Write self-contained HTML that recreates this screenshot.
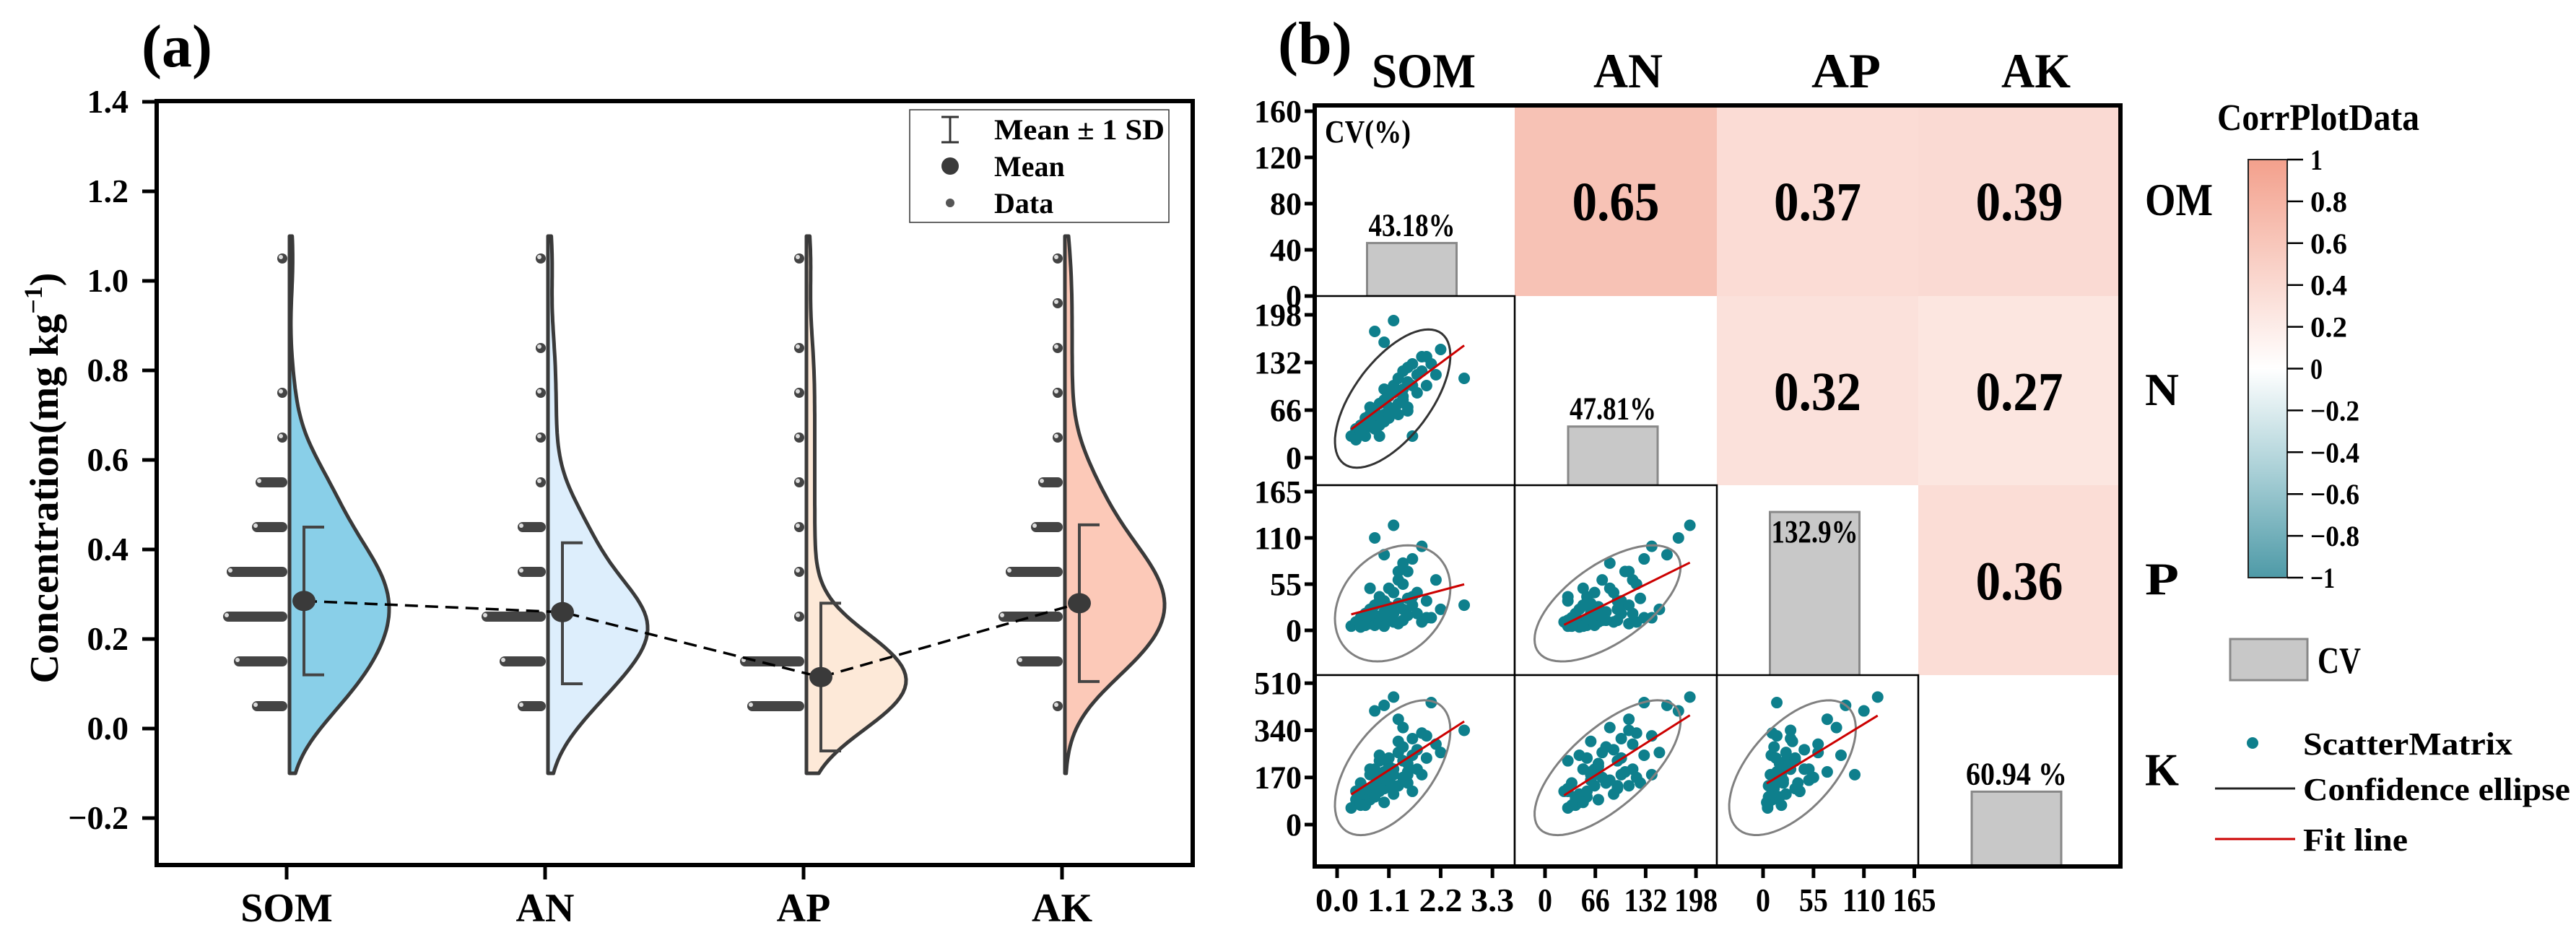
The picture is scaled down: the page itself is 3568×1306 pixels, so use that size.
<!DOCTYPE html>
<html><head><meta charset="utf-8">
<style>
html,body{margin:0;padding:0;background:#fff;}
svg{display:block;font-family:"Liberation Serif","DejaVu Serif",serif;}
svg text{font-family:"Liberation Serif","DejaVu Serif",serif;font-weight:bold;fill:#000;}
</style></head>
<body>
<svg id="fig" xmlns="http://www.w3.org/2000/svg" width="3568" height="1306" viewBox="0 0 3568 1306" font-family="'Liberation Serif','DejaVu Serif',serif" font-weight="bold">
<defs>
<linearGradient id="cbar" x1="0" y1="0" x2="0" y2="1">
<stop offset="0" stop-color="#F3A08C"/><stop offset="0.25" stop-color="#F9D0C6"/><stop offset="0.5" stop-color="#FFFFFF"/><stop offset="0.75" stop-color="#A8CFD6"/><stop offset="1" stop-color="#4E9AA7"/>
</linearGradient>
</defs>
<rect width="3568" height="1306" fill="#fff"/>
<g id="pa"></g>
<g id="pb"></g>
</svg>
<script>
// ---------- Panel (a) data ----------
const catsA = ["SOM","AN","AP","AK"];
const yTicksA = [-0.2,0.0,0.2,0.4,0.6,0.8,1.0,1.2,1.4];
const yTickLabelsA = ["\u22120.2","0.0","0.2","0.4","0.6","0.8","1.0","1.2","1.4"];
const binValues = [0.05,0.15,0.25,0.35,0.45,0.55,0.65,0.75,0.85,0.95,1.05];
const countsSOM = [8,13,16,15,8,7,1,1,0,0,1];
const countsAN  = [6,11,16,6,6,1,1,1,1,0,1];
const countsAP  = [14,16,1,1,1,1,1,1,1,0,1];
const countsAK  = [1,11,16,14,7,5,1,1,1,1,1];
const meansA = [0.285,0.26,0.115,0.28];
const sdUpper = [0.45,0.415,0.28,0.455];
const sdLower = [0.12,0.10,-0.05,0.105];
const violinColors = ["#89CFE8","#DDEEFC","#FDE9D8","#FCC9B8"];

// ---------- Panel (b) data ----------
const varsB = ["SOM","AN","AP","AK"];
const rowLabels = ["OM","N","P","K"];
const corrRow0 = [0.65,0.37,0.39];
const corrRow1 = [0.32,0.27];
const corrRow2 = [0.36];
const cvValues = [43.18,47.81,132.9,60.94];
const cvLabels = ["43.18%","47.81%","132.9%","60.94 %"];
const row0Ticks = [0,40,80,120,160];
const anTicks = [0,66,132,198];
const apTicks = [0,55,110,165];
const akTicks = [0,170,340,510];
const somTicks = [0.0,1.1,2.2,3.3];
const somTickLabels = ["0.0","1.1","2.2","3.3"];
const cbTicks = [1,0.8,0.6,0.4,0.2,0,-0.2,-0.4,-0.6,-0.8,-1];
const cbTickLabels = ["1","0.8","0.6","0.4","0.2","0","\u22120.2","\u22120.4","\u22120.6","\u22120.8","\u22121"];
const sampleSOM = [0.3,0.4,0.4,0.5,0.5,0.6,0.6,0.6,0.7,0.7,0.7,0.8,0.8,0.8,0.9,0.9,0.9,1.0,1.0,1.0,1.0,1.1,1.1,1.1,1.2,1.2,1.2,1.3,1.3,1.3,1.4,1.4,1.4,1.5,1.5,1.5,1.6,1.6,1.7,1.7,1.8,1.8,1.9,2.0,2.1,2.2,2.7,1.2,0.8,1.0,1.6,1.3,0.5,1.1,1.9,0.7,1.4,1.2,0.9,1.5];
const sampleAN  = [30,40,25,45,35,55,40,30,60,45,70,50,65,40,75,55,45,80,60,95,50,70,85,55,90,65,100,75,110,60,95,120,80,105,70,125,100,130,115,90,120,140,100,130,115,150,110,190,175,160,30,110,35,60,140,50,85,95,30,65];
const sampleAP  = [5,8,10,4,15,6,20,12,8,25,10,30,6,18,12,40,9,22,15,35,5,28,50,14,10,45,20,60,8,32,25,55,12,70,18,38,30,85,20,45,10,100,35,15,60,25,30,125,110,90,40,70,5,22,15,50,80,12,35,18];
const sampleAK  = [60,90,120,80,150,100,70,130,180,110,90,200,140,100,170,120,250,150,190,130,80,210,160,240,110,200,180,260,140,300,230,170,280,190,220,150,310,250,200,270,330,180,240,440,290,260,340,460,410,430,120,380,70,160,320,200,350,140,230,180];

const NS = "http://www.w3.org/2000/svg";
const FONT = "'Liberation Serif', 'DejaVu Serif', serif";
function mk(parent, tag, attrs){
  const e = document.createElementNS(NS, tag);
  for (const k in attrs) e.setAttribute(k, attrs[k]);
  parent.appendChild(e);
  return e;
}
function tx(parent, x, y, s, size, anchor, tl){
  const t = mk(parent, "text", {x:x, y:y, "font-size":size, "text-anchor":anchor||"start", "font-family":FONT, "font-weight":"bold"});
  t.style.fontFamily = FONT;
  if (tl){ t.setAttribute("textLength", tl); t.setAttribute("lengthAdjust","spacingAndGlyphs"); }
  t.textContent = s;
  return t;
}

// ================= PANEL A =================
const pa = document.getElementById("pa");
const yA = v => 1009 - 620*v;
const xA = i => 397 + 358*i;
const L=217, R=1652, T=140, B=1198;

let e = tx(pa, 196, 92, "(a)", 84, "start");



yTicksA.forEach((v,i)=>{
  let t = mk(pa,"line",{x1:L-20,x2:L,y1:yA(v),y2:yA(v),stroke:"#000","stroke-width":5});
  
  
  let l = tx(pa, 178, yA(v)+15, yTickLabelsA[i], 46, "end");
  
  
});
const yt = mk(pa,"text",{x:0,y:0,"font-size":56,"text-anchor":"middle","font-family":FONT,"font-weight":"bold",transform:"translate(80,662) rotate(-90)"});
yt.style.fontFamily = FONT;
yt.innerHTML = 'Concentration(mg kg<tspan dy="-22" font-size="36">\u22121</tspan><tspan dy="22">)</tspan>';



const allCounts = [countsSOM,countsAN,countsAP,countsAK];
allCounts.forEach((counts,i)=>{
  const c = xA(i)+4;
  const bw = 0.085;
  const dens = v => { let s=0; counts.forEach((n,k)=>{ const z=(v-binValues[k])/bw; s+=n*Math.exp(-0.5*z*z); }); return s; };
  let maxD = 0; const pts=[];
  for (let v=-0.1; v<=1.1001; v+=0.01){ const d=dens(v); pts.push([v,d]); if(d>maxD)maxD=d; }
  let dstr = `M${c},${yA(-0.1)}`;
  pts.forEach(p=>{ dstr += ` L${(c+138*p[1]/maxD).toFixed(1)},${yA(p[0]).toFixed(1)}`; });
  dstr += ` L${c},${yA(1.1)} Z`;
  const vp = mk(pa,"path",{d:dstr,fill:violinColors[i],stroke:"#3a3a3a","stroke-width":5,"stroke-linejoin":"round"});
  
  
  counts.forEach((n,k)=>{
    if(!n) return;
    const y = yA(binValues[k]);
    const x0 = c-10, x1 = c-10-(n-1)*5;
    const s = mk(pa,"line",{x1:x0,x2:x1,y1:y,y2:y,stroke:"#444","stroke-width":14,"stroke-linecap":"round"});
    
    
    const h = mk(pa,"circle",{cx:x1-2,cy:y-2,r:3,fill:"#ddd"});
    
    
  });
});
let md = "";
meansA.forEach((m,i)=>{ md += (i?" L":"M")+(xA(i)+24)+","+yA(m); });
const dl = mk(pa,"path",{d:md,fill:"none",stroke:"#000","stroke-width":3.5,"stroke-dasharray":"18 10"});


meansA.forEach((m,i)=>{
  const x = xA(i)+24;
  const sd = mk(pa,"path",{d:`M${x+28},${yA(sdUpper[i])} L${x},${yA(sdUpper[i])} L${x},${yA(sdLower[i])} L${x+28},${yA(sdLower[i])}`,fill:"none",stroke:"#444","stroke-width":4});
  
  
  const mc = mk(pa,"ellipse",{cx:x,cy:yA(m),rx:16,ry:14,fill:"#3a3a3a"});
  
  
});
const fr = mk(pa,"rect",{x:L,y:T,width:R-L,height:B-T,fill:"none",stroke:"#000","stroke-width":6});


catsA.forEach((c,i)=>{
  const t = mk(pa,"line",{x1:xA(i),x2:xA(i),y1:B,y2:B+20,stroke:"#000","stroke-width":5});
  
  
  const l = tx(pa, xA(i), 1276, c, 56, "middle");
  
  
});
const lg = mk(pa,"g",{});


mk(lg,"rect",{x:1260,y:152,width:359,height:156,fill:"#fff",stroke:"#333","stroke-width":1.5});
mk(lg,"path",{d:"M1304,162 L1328,162 M1316,162 L1316,197 M1304,197 L1328,197",stroke:"#333","stroke-width":3,fill:"none"});
mk(lg,"circle",{cx:1316,cy:230,r:12,fill:"#3a3a3a"});
mk(lg,"circle",{cx:1316,cy:281,r:6,fill:"#555"});
tx(lg,1377,193,"Mean \u00b1 1 SD",40,"start",236);
tx(lg,1377,244,"Mean",40,"start");
tx(lg,1377,295,"Data",40,"start");

// ================= PANEL B =================
const pb = document.getElementById("pb");
const colX = [1821,2098,2378,2657,2937];
const rowY = [146,410,672,935,1200];
const samples = [sampleSOM,sampleAN,sampleAP,sampleAK];
const xScale = [v=>1852+65.2*v, v=>2140+1.056*v, v=>2442+1.27*v];
const yScale = [null, v=>634-1.0*v, v=>873-1.164*v, v=>1142-0.384*v];
const row0Y = v=>410-1.6*v;

e = tx(pb, 1770, 88, "(b)", 84, "start");



const hdrX = [1972,2255,2557,2820];
varsB.forEach((s,i)=>{
  const h = tx(pb, hdrX[i], 121, s, 68, "middle", s.length*48);
  
  
});
rowLabels.forEach((s,i)=>{
  const h = tx(pb, 2971, (rowY[i]+rowY[i+1])/2+20, s, 64, "start", s.length*47);
  
  
});

function lerp(a,b,t){return Math.round(a+(b-a)*t);}
function hex(h){return [parseInt(h.substr(1,2),16),parseInt(h.substr(3,2),16),parseInt(h.substr(5,2),16)];}
function corrColor(v){
  const stops=[[1,"#F3A08C"],[0.5,"#F9D0C6"],[0,"#FFFFFF"],[-0.5,"#A8CFD6"],[-1,"#4E9AA7"]];
  for(let k=0;k<stops.length-1;k++){
    const [v0,c0]=stops[k],[v1,c1]=stops[k+1];
    if(v<=v0&&v>=v1){const t=(v0-v)/(v0-v1);const a=hex(c0),b=hex(c1);return `rgb(${lerp(a[0],b[0],t)},${lerp(a[1],b[1],t)},${lerp(a[2],b[2],t)})`;}
  }
  return "#fff";
}
const corrRows = [corrRow0,corrRow1,corrRow2];
corrRows.forEach((row,r)=>{
  row.forEach((v,k)=>{
    const c = r+1+k;
    const cell = mk(pb,"rect",{x:colX[c],y:rowY[r],width:colX[c+1]-colX[c],height:rowY[r+1]-rowY[r],fill:corrColor(v)});
    
    
    const t = tx(pb,(colX[c]+colX[c+1])/2,(rowY[r]+rowY[r+1])/2+27,v.toFixed(2),76,"middle",121);
    
    
  });
});

cvValues.forEach((v,i)=>{
  const cx = (colX[i]+colX[i+1])/2 - 4;
  const h = 1.7*v;
  const b = mk(pb,"rect",{x:cx-62,y:rowY[i+1]-h,width:124,height:h,fill:"#C8C8C8",stroke:"#888","stroke-width":3});
  
  
  const inside = (rowY[i+1]-h) < rowY[i]+60;
  const ly = inside ? rowY[i+1]-h+42 : rowY[i+1]-h-10;
  const l = tx(pb,cx,ly,cvLabels[i],44,"middle",cvLabels[i].length*20);
  
  
});
e = tx(pb,1835,197,"CV(%)",44,"start",119);



function mean(a){return a.reduce((s,x)=>s+x,0)/a.length;}
for(let r=1;r<4;r++){
  for(let c=0;c<r;c++){
    const g = mk(pb,"g",{});
    
    
    mk(g,"rect",{x:colX[c],y:rowY[r],width:colX[c+1]-colX[c],height:rowY[r+1]-rowY[r],fill:"#fff",stroke:"#000","stroke-width":2.5});
    const xs = samples[c], ys = samples[r];
    const fx = xScale[c], fy = yScale[r];
    xs.forEach((xv,k)=>{
      const p = mk(g,"circle",{cx:fx(xv),cy:fy(ys[k]),r:8,fill:"#0E7F8C"});
      
      
    });
    const mx=mean(xs), my=mean(ys), n=xs.length;
    let sxx=0,syy=0,sxy=0;
    xs.forEach((xv,k)=>{sxx+=(xv-mx)**2;syy+=(ys[k]-my)**2;sxy+=(xv-mx)*(ys[k]-my);});
    sxx/=n-1;syy/=n-1;sxy/=n-1;
    const tr=(sxx+syy)/2, det=Math.sqrt(((sxx-syy)/2)**2+sxy*sxy);
    const l1=tr+det, l2=tr-det;
    const ang = Math.atan2(l1-sxx, sxy);
    const k2=Math.sqrt(5.991);
    let d="";
    for(let t=0;t<=360;t+=5){
      const a=t*Math.PI/180;
      const u=k2*Math.sqrt(l1)*Math.cos(a), w=k2*Math.sqrt(Math.max(l2,0))*Math.sin(a);
      const ex=mx+u*Math.cos(ang)-w*Math.sin(ang), ey=my+u*Math.sin(ang)+w*Math.cos(ang);
      d+=(t?" L":"M")+fx(ex).toFixed(1)+","+fy(ey).toFixed(1);
    }
    const el = mk(g,"path",{d:d+" Z",fill:"none",stroke:r===1?"#333":"#808080","stroke-width":3});
    
    
    const slope=sxy/sxx, icp=my-slope*mx;
    const x0=Math.min(...xs), x1=Math.max(...xs);
    const fl = mk(g,"line",{x1:fx(x0),y1:fy(icp+slope*x0),x2:fx(x1),y2:fy(icp+slope*x1),stroke:"#CC0000","stroke-width":3});
    
    
  }
}
e = mk(pb,"path",{d:`M${colX[0]},${rowY[0]} L${colX[4]},${rowY[0]} L${colX[4]},${rowY[4]} L${colX[0]},${rowY[4]} Z`,fill:"none",stroke:"#000","stroke-width":6});



function yTicks(ticks, f){
  ticks.forEach(v=>{
    const t = mk(pb,"line",{x1:colX[0]-14,x2:colX[0],y1:f(v),y2:f(v),stroke:"#000","stroke-width":5});
    
    
    const s=String(v);
    const l = tx(pb,colX[0]-18,f(v)+15,s,44,"end",s.length*22);
    
    
  });
}
yTicks(row0Ticks,row0Y); yTicks(anTicks,yScale[1]); yTicks(apTicks,yScale[2]); yTicks(akTicks,yScale[3]);
function xTicks(ticks, labels, f){
  ticks.forEach((v,i)=>{
    const t = mk(pb,"line",{x1:f(v),x2:f(v),y1:rowY[4],y2:rowY[4]+16,stroke:"#000","stroke-width":5});
    
    
    const l = tx(pb,f(v),1262,labels[i],46,"middle",labels[i].length*20);
    
    
  });
}
xTicks(somTicks,somTickLabels,xScale[0]);
xTicks(anTicks,anTicks.map(String),xScale[1]);
xTicks(apTicks,apTicks.map(String),xScale[2]);

e = tx(pb,3211,180,"CorrPlotData",52,"middle",280);


const cbY = v => 510.5 - 289.5*v;
e = mk(pb,"rect",{x:3114,y:221,width:54,height:579,fill:"url(#cbar)",stroke:"#222","stroke-width":2});


cbTicks.forEach((v,i)=>{
  const t = mk(pb,"line",{x1:3168,x2:3190,y1:cbY(v),y2:cbY(v),stroke:"#000","stroke-width":2.5});
  
  
  const l = tx(pb,3200,cbY(v)+14,cbTickLabels[i],40,"start",cbTickLabels[i].length*17);
  
  
});
e = mk(pb,"rect",{x:3089,y:885,width:107,height:57,fill:"#C8C8C8",stroke:"#888","stroke-width":3});


e = tx(pb,3210,932,"CV",52,"start",60);


e = mk(pb,"circle",{cx:3120,cy:1029,r:8,fill:"#0E7F8C"});


e = tx(pb,3190,1045,"ScatterMatrix",44,"start",290);


e = mk(pb,"line",{x1:3068,x2:3179,y1:1092,y2:1092,stroke:"#222","stroke-width":3});


e = tx(pb,3190,1108,"Confidence ellipse",44,"start",370);


e = mk(pb,"line",{x1:3068,x2:3179,y1:1162,y2:1162,stroke:"#CC0000","stroke-width":3});


e = tx(pb,3190,1178,"Fit line",44,"start",145);


</script>
</body></html>
